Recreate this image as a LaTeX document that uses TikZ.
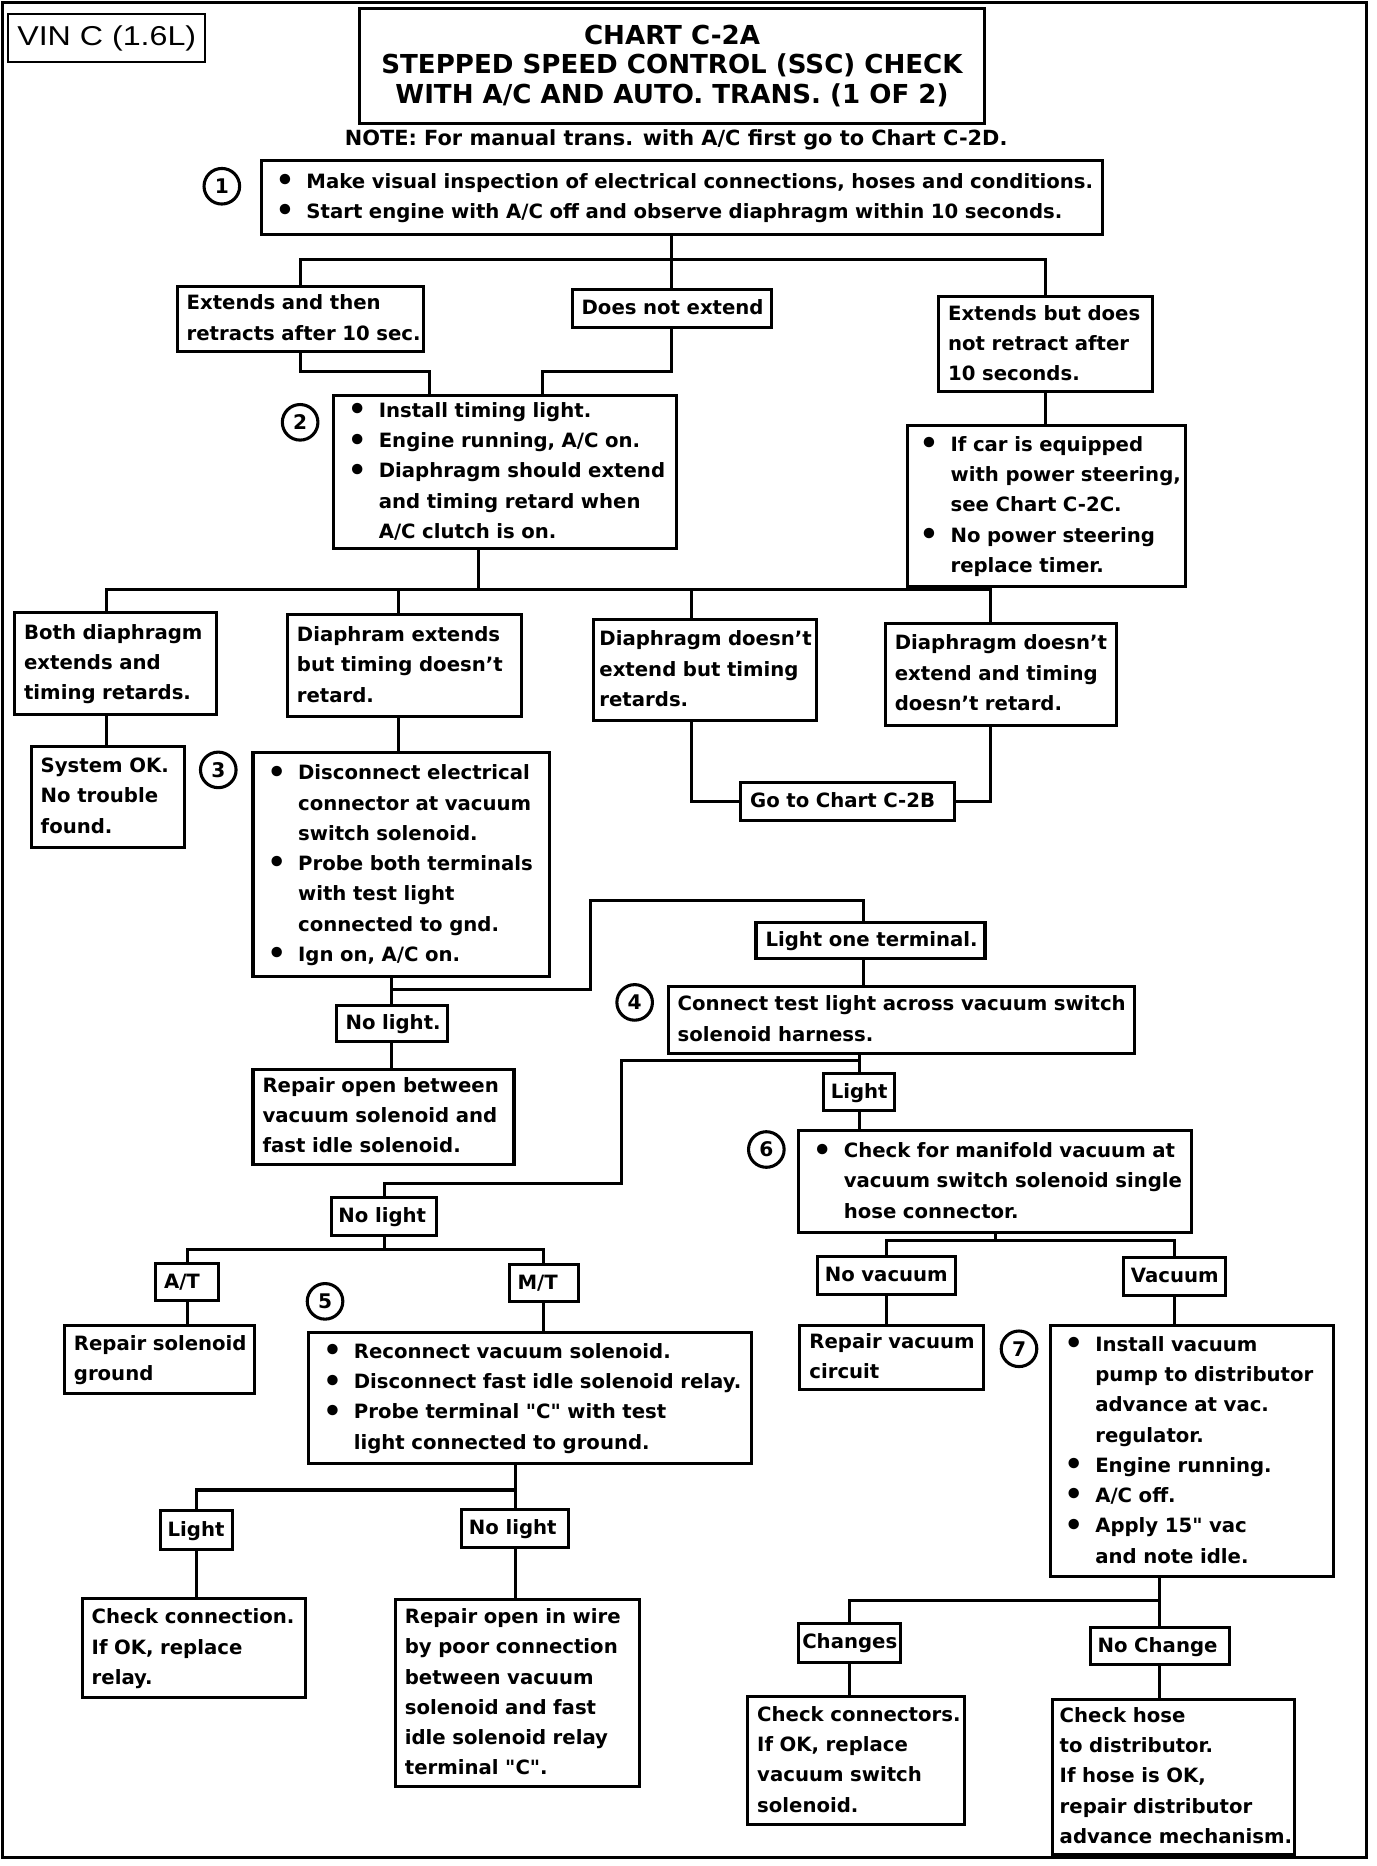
\documentclass[tikz,border=0pt]{standalone}
\usepackage{fontspec}
\setmainfont{DejaVu Sans}
\newfontfamily\vinfont{Liberation Sans}
\newcommand\body{\fontsize{16.6}{25.5}\selectfont\bfseries}
\newcommand\itm{\makebox[26pt][l]{\raisebox{-0.12em}{\scalebox{1.5}{\textbullet}}}}
\newcommand\ind{\hspace*{26pt}}
\newcommand\lines[1]{\begin{tabular}{@{}l@{}}#1\end{tabular}}
\begin{document}
\begin{tikzpicture}[x=1pt, y=-1pt, line width=2.6pt,
	box/.style = {draw, anchor=north west, align=left, inner xsep=8pt, inner ysep=0pt, font=\body},
	list/.style = {box, inner xsep=12pt},
	num/.style = {draw, circle, minimum size=30pt, inner sep=0pt, font=\fontsize{17}{17}\selectfont\bfseries}]
	\useasboundingbox (0,0) rectangle (1160,1573);
	\draw (2,2) rectangle (1152,1566);
	
	\node[draw, line width=1.8pt, minimum width=166pt, minimum height=40pt, inner sep=0pt, font=\vinfont\fontsize{23}{26}\selectfont] (vin) at (90,32) {\scalebox{1.18}[1]{VIN C (1.6L)}};
	\node[draw, align=center, minimum width=527pt, minimum height=97pt, font=\fontsize{22}{25}\selectfont\bfseries] (title) at (566.5,55.5) {CHART C-2A\\STEPPED SPEED CONTROL (SSC) CHECK\\WITH A/C AND AUTO. TRANS. (1 OF 2)};
	\node[font=\body\fontsize{17.6}{25.5}\selectfont] (note) at (570,118) {NOTE: For manual trans. with A/C first go to Chart C-2D.};
	
	\node[num] (c1) at (187,157) {1};
	\node[list, text width=685pt, minimum height=62pt] (b1) at (219,134) {\lines{\itm Make visual inspection of electrical connections, hoses and conditions.\\\itm Start engine with A/C off and observe diaphragm within 10 seconds.}};
	\node[box, text width=192pt, minimum height=55pt] (e1) at (148,240) {\lines{Extends and then\\retracts after 10 sec.}};
	\node[box, text width=152pt, minimum height=32pt] (e2) at (481,243) {\lines{Does not extend}};
	\node[box, text width=164pt, minimum height=80pt] (e3) at (790,249) {\lines{Extends but does\\not retract after\\10 seconds.}};
	\node[num] (c2) at (253,356) {2};
	\node[list, text width=265pt, minimum height=129pt] (b2) at (280,332) {\lines{\itm Install timing light.\\\itm Engine running, A/C on.\\\itm Diaphragm should extend\\\ind and timing retard when\\\ind A/C clutch is on.}};
	\node[list, inner xsep=10pt, text width=214pt, minimum height=136pt] (ps) at (764,357) {\lines{\itm If car is equipped\\\ind with power steering,\\\ind see Chart C-2C.\\\itm No power steering\\\ind replace timer.}};
	
	\node[box, text width=154pt, minimum height=86pt] (d1) at (11,515) {\lines{Both diaphragm\\extends and\\timing retards.}};
	\node[box, text width=181pt, minimum height=86pt] (d2) at (241,517) {\lines{Diaphram extends\\but timing doesn't\\retard.}};
	\node[box, inner xsep=5pt, text width=178pt, minimum height=85pt] (d3) at (499,521) {\lines{Diaphragm doesn't\\extend but timing\\retards.}};
	\node[box, text width=179pt, minimum height=86pt] (d4) at (745,524) {\lines{Diaphragm doesn't\\extend and timing\\doesn't retard.}};
	\node[box, text width=113pt, minimum height=85pt] (ok) at (25,628) {\lines{System OK.\\No trouble\\found.}};
	\node[num] (c3) at (184,649) {3};
	\node[list, text width=226pt, minimum height=189pt] (b3) at (212,633) {\lines{\itm Disconnect electrical\\\ind connector at vacuum\\\ind switch solenoid.\\\itm Probe both terminals\\\ind with test light\\\ind connected to gnd.\\\itm Ign on, A/C on.}};
	\node[box, text width=164pt, minimum height=32pt] (gc) at (623,658) {\lines{Go to Chart C-2B}};
	\node[box, text width=177pt, minimum height=31pt] (l1) at (636,776) {\lines{Light one terminal.}};
	\node[num] (c4) at (535,845) {4};
	\node[box, text width=377pt, minimum height=57pt] (b4) at (562,830) {\lines{Connect test light across vacuum switch\\solenoid harness.}};
	\node[box, text width=78pt, minimum height=31pt] (n1) at (282,846) {\lines{No light.}};
	\node[box, text width=204pt, minimum height=80pt] (r1) at (212,900) {\lines{Repair open between\\vacuum solenoid and\\fast idle solenoid.}};
	\node[box, inner xsep=6pt, text width=48pt, minimum height=31pt] (l2) at (693,904) {\lines{Light}};
	\node[num] (c6) at (646,969) {6};
	\node[list, text width=307pt, minimum height=86pt] (b6) at (672,952) {\lines{\itm Check for manifold vacuum at\\\ind vacuum switch solenoid single\\\ind hose connector.}};
	
	\node[box, inner xsep=6pt, text width=77pt, minimum height=32pt] (n2) at (278,1008) {\lines{No light}};
	\node[box, inner xsep=7pt, text width=39pt, minimum height=31pt] (atr) at (130,1064) {\lines{A/T}};
	\node[box, inner xsep=7pt, text width=44pt, minimum height=31pt] (mtr) at (428,1065) {\lines{M/T}};
	\node[box, text width=144pt, minimum height=57pt] (rs) at (53,1116) {\lines{Repair solenoid\\ground}};
	\node[num] (c5) at (274,1097) {5};
	\node[list, text width=349pt, minimum height=110pt] (b5) at (259,1122) {\lines{\itm Reconnect vacuum solenoid.\\\itm Disconnect fast idle solenoid relay.\\\itm Probe terminal \textquotedbl C\textquotedbl{} with test\\\ind light connected to ground.}};
	\node[box, inner xsep=6pt, text width=104pt, minimum height=32pt] (nv) at (688,1058) {\lines{No vacuum}};
	\node[box, inner xsep=6pt, text width=74pt, minimum height=32pt] (va) at (946,1059) {\lines{Vacuum}};
	\node[box, text width=139pt, minimum height=54pt] (rv) at (673,1116) {\lines{Repair vacuum\\circuit}};
	\node[num] (c7) at (859,1137) {7};
	\node[list, text width=215pt, minimum height=212pt] (b7) at (884,1116) {\lines{\itm Install vacuum\\\ind pump to distributor\\\ind advance at vac.\\\ind regulator.\\\itm Engine running.\\\itm A/C off.\\\itm Apply 15\textquotedbl{} vac\\\ind and note idle.}};
	\node[box, inner xsep=6pt, text width=49pt, minimum height=33pt] (lt) at (134,1272) {\lines{Light}};
	\node[box, inner xsep=6pt, text width=78pt, minimum height=32pt] (nl) at (388,1271) {\lines{No light}};
	\node[box, text width=172pt, minimum height=84pt] (cc) at (68,1346) {\lines{Check connection.\\If OK, replace\\relay.}};
	\node[box, text width=190pt, minimum height=158pt] (ro) at (332,1347) {\lines{Repair open in wire\\by poor connection\\between vacuum\\solenoid and fast\\idle solenoid relay\\terminal \textquotedbl C\textquotedbl.}};
	\node[box, inner xsep=3pt, text width=80pt, minimum height=33pt] (ch) at (672,1367) {\lines{Changes}};
	\node[box, inner xsep=6pt, text width=105pt, minimum height=31pt] (nc) at (918,1371) {\lines{No Change}};
	\node[box, text width=167pt, minimum height=108pt] (ck) at (629,1429) {\lines{Check connectors.\\If OK, replace\\vacuum switch\\solenoid.}};
	\node[box, inner xsep=6pt, text width=192pt, minimum height=131pt] (ho) at (886,1431) {\lines{Check hose\\to distributor.\\If hose is OK,\\repair distributor\\advance mechanism.}};
	
	\coordinate (j1) at (0,219);
	\coordinate (k1) at (362,313);
	\coordinate (k2) at (457,313);
	\coordinate (q0) at (403,497);
	\coordinate (q1) at (90,497);
	\coordinate (q2) at (336,497);
	\coordinate (q3) at (583,497);
	\coordinate (q4) at (835,497);
	\coordinate (j5) at (498,834);
	\coordinate (j6) at (728,759);
	\coordinate (j7) at (524,894);
	\coordinate (j8) at (524,998);
	\coordinate (j9) at (0,1053);
	\coordinate (j10) at (0,1256);
	\coordinate (j11) at (0,1046);
	\coordinate (j12) at (0,1349);
	
	\draw (b1.south -| e2.north) -- (e2.north);
	\draw (e1.north) |- (j1 -| e2.north) -| (e3.north);
	\draw (e1.south) |- (k1) -- (k1 |- b2.north);
	\draw (e2.south) |- (k2) -- (k2 |- b2.north);
	\draw (e3.south) -- (e3.south |- ps.north);
	\draw (q0 |- b2.south) -- (q0);
	\draw (q1 |- d1.north) -- (q1) -- (q4) -- (q4 |- d4.north);
	\draw (q2) -- (q2 |- d2.north);
	\draw (q3) -- (q3 |- d3.north);
	\draw (q1 |- d1.south) -- (q1 |- ok.north);
	\draw (q2 |- d2.south) -- (q2 |- b3.north);
	\draw (q3 |- d3.south) |- (gc.west);
	\draw (q4 |- d4.south) |- (gc.east);
	\draw (b3.south -| n1.north) -- (n1.north);
	\draw (j5 -| n1.north) -- (j5) |- (j6) -- (j6 |- l1.north);
	\draw (j6 |- l1.south) -- (j6 |- b4.north);
	\draw (n1.south) -- (n1.south |- r1.north);
	\draw (b4.south -| l2.north) -- (l2.north);
	\draw (j7 -| l2.north) -- (j7) -- (j8) -| (n2.north);
	\draw (l2.south) -- (l2.south |- b6.north);
	\draw (n2.south) -- (n2.south |- j9);
	\draw (atr.north) |- (j9 -| n2.south) -| (mtr.north);
	\draw (atr.south) -- (atr.south |- rs.north);
	\draw (mtr.south) -- (mtr.south |- b5.north);
	\draw (b5.south -| nl.north) -- (nl.north);
	\draw (lt.north) |- (j10 -| nl.north);
	\draw (lt.south) -- (lt.south |- cc.north);
	\draw (nl.south) -- (nl.south |- ro.north);
	\draw (b6.south) -- (b6.south |- j11);
	\draw (nv.north) |- (j11 -| b6.south) -| (va.north);
	\draw (nv.south) -- (nv.south |- rv.north);
	\draw (va.south) -- (va.south |- b7.north);
	\draw (b7.south -| nc.north) -- (nc.north);
	\draw (ch.north) |- (j12 -| nc.north);
	\draw (ch.south) -- (ch.south |- ck.north);
	\draw (nc.south) -- (nc.south |- ho.north);
\end{tikzpicture}
\end{document}
